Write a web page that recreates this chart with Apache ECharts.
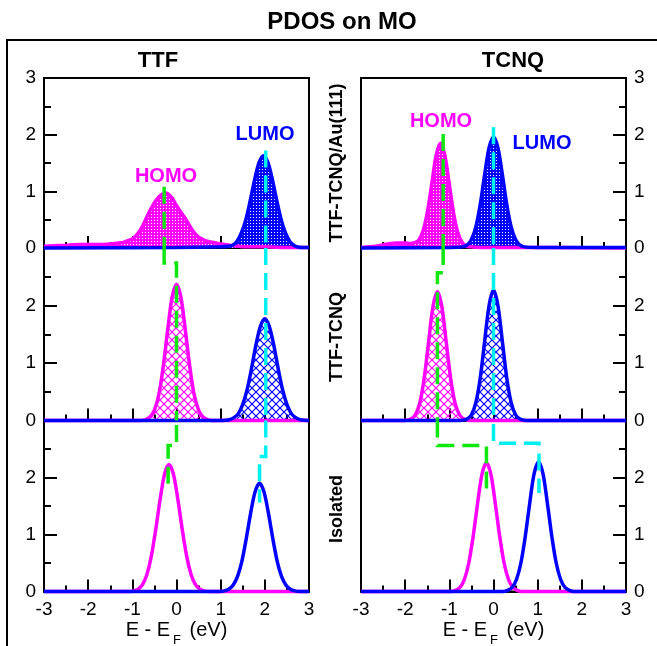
<!DOCTYPE html>
<html><head><meta charset="utf-8">
<script src="https://cdn.jsdelivr.net/npm/echarts@6/dist/echarts.min.js"></script>
<style>html,body{margin:0;padding:0;background:#fff}#c{width:657px;height:646px}</style>
</head><body><div id="c"></div>
<script>
// ---- labels ----
const chartTitle = 'PDOS on MO';
const columnTitles = ['TTF', 'TCNQ'];
const rowLabels = ['TTF-TCNQ/Au(111)', 'TTF-TCNQ', 'Isolated'];
const xRange = [-3, 3];
const yRange = [0, 3];

// ---- PDOS curves [E - EF (eV), PDOS] ----
const ttfAuHomo = [[-3,0.03],[-2.8,0.04],[-2.5,0.05],[-2.2,0.06],[-1.8,0.06],[-1.5,0.07],[-1.3,0.09],[-1.2,0.10],[-1.1,0.13],[-1.0,0.16],[-0.9,0.23],[-0.8,0.34],[-0.7,0.50],[-0.6,0.66],[-0.5,0.80],[-0.4,0.90],[-0.3,0.96],[-0.25,0.97],[-0.2,0.96],[-0.1,0.88],[0.0,0.75],[0.1,0.63],[0.2,0.52],[0.3,0.39],[0.4,0.27],[0.5,0.19],[0.6,0.15],[0.7,0.12],[0.8,0.10],[1.0,0.07],[1.2,0.05],[1.4,0.03],[1.6,0.02],[2.0,0.02],[2.5,0.01],[3,0.01]];
const ttfAuLumo = [[-3,0],[0,0.01],[1.0,0.02],[1.17,0.03],[1.27,0.05],[1.37,0.12],[1.47,0.27],[1.57,0.50],[1.67,0.84],[1.77,1.21],[1.87,1.51],[1.97,1.63],[2.07,1.51],[2.17,1.21],[2.27,0.84],[2.37,0.50],[2.47,0.26],[2.57,0.11],[2.67,0.04],[2.77,0.015],[3,0.01]];
const tcnqAuHomo = [[-3,0.01],[-2.8,0.02],[-2.6,0.04],[-2.4,0.07],[-2.2,0.09],[-2.0,0.09],[-1.9,0.08],[-1.8,0.09],[-1.7,0.13],[-1.6,0.29],[-1.5,0.62],[-1.4,1.12],[-1.3,1.63],[-1.2,1.85],[-1.1,1.63],[-1.0,1.12],[-0.9,0.60],[-0.8,0.25],[-0.7,0.09],[-0.6,0.03],[-0.5,0.02],[-0.3,0.01],[0,0.01],[3,0]];
const tcnqAuLumo = [[-3,0],[-1.0,0.01],[-0.7,0.02],[-0.6,0.05],[-0.5,0.15],[-0.4,0.37],[-0.3,0.77],[-0.2,1.30],[-0.1,1.77],[0,1.96],[0.1,1.77],[0.2,1.30],[0.3,0.77],[0.4,0.37],[0.5,0.15],[0.6,0.05],[0.7,0.02],[1.0,0.01],[3,0.01]];

const ttfMolHomo = [[-3,0],[-0.8,0],[-0.7,0.015],[-0.6,0.06],[-0.5,0.18],[-0.4,0.45],[-0.3,0.94],[-0.2,1.57],[-0.1,2.14],[0,2.37],[0.1,2.14],[0.2,1.57],[0.3,0.94],[0.4,0.45],[0.5,0.18],[0.6,0.06],[0.7,0.015],[0.8,0],[3,0]];
const ttfMolLumo = [[-3,0],[1.0,0],[1.1,0.004],[1.2,0.016],[1.3,0.05],[1.4,0.12],[1.5,0.28],[1.6,0.54],[1.7,0.91],[1.8,1.32],[1.9,1.64],[2.0,1.77],[2.1,1.64],[2.2,1.32],[2.3,0.91],[2.4,0.54],[2.5,0.28],[2.6,0.12],[2.7,0.05],[2.8,0.016],[2.9,0.004],[3,0]];
const tcnqMolHomo = [[-3,0],[-2.07,0],[-1.97,0.005],[-1.87,0.025],[-1.77,0.10],[-1.67,0.30],[-1.57,0.73],[-1.47,1.36],[-1.37,1.98],[-1.27,2.24],[-1.17,1.98],[-1.07,1.36],[-0.97,0.73],[-0.87,0.30],[-0.77,0.10],[-0.67,0.025],[-0.57,0.005],[-0.47,0],[3,0]];
const tcnqMolLumo = [[-3,0],[-0.8,0],[-0.7,0.005],[-0.6,0.025],[-0.5,0.10],[-0.4,0.31],[-0.3,0.74],[-0.2,1.38],[-0.1,2.00],[0,2.27],[0.1,2.00],[0.2,1.38],[0.3,0.74],[0.4,0.31],[0.5,0.10],[0.6,0.025],[0.7,0.005],[0.8,0],[3,0]];

const ttfIsoHomo = [[-3,0],[-1.07,0],[-0.97,0.01],[-0.87,0.04],[-0.77,0.12],[-0.67,0.30],[-0.57,0.62],[-0.47,1.09],[-0.37,1.62],[-0.27,2.06],[-0.17,2.23],[-0.07,2.06],[0.03,1.62],[0.13,1.09],[0.23,0.62],[0.33,0.30],[0.43,0.12],[0.53,0.04],[0.63,0.01],[0.73,0],[3,0]];
const ttfIsoLumo = [[-3,0],[0.98,0],[1.08,0.01],[1.18,0.04],[1.28,0.11],[1.38,0.26],[1.48,0.53],[1.58,0.93],[1.68,1.38],[1.78,1.75],[1.88,1.90],[1.98,1.75],[2.08,1.38],[2.18,0.93],[2.28,0.53],[2.38,0.26],[2.48,0.11],[2.58,0.04],[2.68,0.01],[2.78,0],[3,0]];
const tcnqIsoHomo = [[-3,0],[-0.96,0],[-0.86,0.02],[-0.76,0.07],[-0.66,0.21],[-0.56,0.50],[-0.46,0.97],[-0.36,1.55],[-0.26,2.06],[-0.16,2.26],[-0.06,2.06],[0.04,1.55],[0.14,0.97],[0.24,0.50],[0.34,0.21],[0.44,0.07],[0.54,0.02],[0.64,0],[3,0]];
const tcnqIsoLumo = [[-3,0],[0.22,0],[0.32,0.02],[0.42,0.07],[0.52,0.21],[0.62,0.50],[0.72,0.97],[0.82,1.55],[0.92,2.07],[1.02,2.27],[1.12,2.07],[1.22,1.55],[1.32,0.97],[1.42,0.50],[1.52,0.21],[1.62,0.07],[1.72,0.02],[1.82,0],[3,0]];

// ---- HOMO / LUMO level guides, one path per row (Au, molecular crystal, isolated) ----
const ttfHomoGuide = [
  [[-0.28,1.08],[-0.28,0]],
  [[-0.28,3],[-0.28,2.74],[0,2.74],[0,0]],
  [[0,2.92],[0,2.56],[-0.19,2.56],[-0.19,1.78]]
];
const ttfLumoGuide = [
  [[2.02,1.72],[2.02,0]],
  [[2.02,3],[2.02,0]],
  [[2.02,3],[2.02,2.37],[1.88,2.37],[1.88,1.56]]
];
const tcnqHomoGuide = [
  [[-1.14,2.01],[-1.14,0]],
  [[-1.14,3],[-1.14,2.57],[-1.27,2.57],[-1.27,0]],
  [[-1.27,3],[-1.27,2.56],[-0.16,2.56],[-0.16,1.73]]
];
const tcnqLumoGuide = [
  [[0,2.13],[0,0]],
  [[0,3],[0,0]],
  [[0,2.94],[0,2.6],[1.03,2.6],[1.03,1.73]]
];

// ---- styles ----
const MAG = '#ff00ff', BLU = '#0000ff', GRN = '#11e611', CYN = '#00f0f0';
function dotPattern(color) {
  const c = document.createElement('canvas'); c.width = 3; c.height = 3;
  const g = c.getContext('2d'); g.fillStyle = color; g.fillRect(0,0,3,3);
  g.fillStyle = '#ffffff'; g.fillRect(1,1,1,1);
  return {image: c, repeat: 'repeat'};
}
function hatchPattern(color) {
  const c = document.createElement('canvas'); c.width = 8; c.height = 8;
  const g = c.getContext('2d'); g.strokeStyle = color; g.lineWidth = 1.2;
  g.beginPath();
  g.moveTo(-1,-1); g.lineTo(9,9); g.moveTo(9,-1); g.lineTo(-1,9);
  g.stroke();
  return {image: c, repeat: 'repeat'};
}

const panels = [
  {homo: ttfAuHomo, lumo: ttfAuLumo, fill: 'dot', hg: ttfHomoGuide[0], lg: ttfLumoGuide[0]},
  {homo: tcnqAuHomo, lumo: tcnqAuLumo, fill: 'dot', hg: tcnqHomoGuide[0], lg: tcnqLumoGuide[0]},
  {homo: ttfMolHomo, lumo: ttfMolLumo, fill: 'hatch', hg: ttfHomoGuide[1], lg: ttfLumoGuide[1]},
  {homo: tcnqMolHomo, lumo: tcnqMolLumo, fill: 'hatch', hg: tcnqHomoGuide[1], lg: tcnqLumoGuide[1]},
  {homo: ttfIsoHomo, lumo: ttfIsoLumo, fill: null, hg: ttfHomoGuide[2], lg: ttfLumoGuide[2]},
  {homo: tcnqIsoHomo, lumo: tcnqIsoLumo, fill: null, hg: tcnqHomoGuide[2], lg: tcnqLumoGuide[2]}
];

const colLeft = [44, 361], colWidth = 265;
const rowTop = [78, 248, 420.5], rowHeight = [170, 172.5, 171];
const FONT = 'Liberation Sans, Arial, sans-serif';

const grid = [], xAxis = [], yAxis = [], series = [];
panels.forEach((p, i) => {
  const r = Math.floor(i / 2), c = i % 2;
  grid.push({left: colLeft[c], top: rowTop[r], width: colWidth, height: rowHeight[r],
    show: true, borderColor: '#000', borderWidth: 2, backgroundColor: 'transparent',
    containLabel: false, outerBoundsMode: 'none'});
  xAxis.push({type: 'value', gridIndex: i, min: xRange[0], max: xRange[1], interval: 1,
    axisLine: {show: true, onZero: false, lineStyle: {color: '#000', width: 2}},
    axisTick: {show: true, inside: true, length: 12, lineStyle: {color: '#000', width: 2}},
    minorTick: {show: true, splitNumber: 2, length: 6, lineStyle: {color: '#000', width: 2}},
    splitLine: {show: false},
    axisLabel: {show: r === 2, fontSize: 19, color: '#000', fontFamily: FONT, margin: 9},
    name: r === 2 ? '{a|E - E}{s|F}{a| (eV)}' : '', nameLocation: 'middle', nameGap: 25,
    nameTextStyle: {rich: {
      a: {fontSize: 20, color: '#000', fontFamily: FONT, lineHeight: 24, verticalAlign: 'bottom'},
      s: {fontSize: 13, color: '#000', fontFamily: FONT, lineHeight: 24, verticalAlign: 'bottom', padding: [0, 3, -6, 3]}
    }}
  });
  yAxis.push({type: 'value', gridIndex: i, min: yRange[0], max: yRange[1], interval: 1,
    position: c === 0 ? 'left' : 'right',
    axisLine: {show: true, onZero: false, lineStyle: {color: '#000', width: 2}},
    axisTick: {show: true, inside: true, length: 13, lineStyle: {color: '#000', width: 2}},
    minorTick: {show: true, splitNumber: 2, length: 7, lineStyle: {color: '#000', width: 2}},
    splitLine: {show: false},
    axisLabel: {fontSize: 19, color: '#000', fontFamily: FONT, margin: 8,
      formatter: v => (r > 0 && v === 3) ? '' : String(v)}
  });
  [[p.homo, MAG], [p.lumo, BLU]].forEach(([d, col]) => {
    const s = {type: 'line', xAxisIndex: i, yAxisIndex: i, data: d, showSymbol: false, smooth: 0.3,
      clip: false, z: 3, lineStyle: {color: col, width: 3.5}, itemStyle: {color: col}};
    if (p.fill === 'dot') s.areaStyle = {color: dotPattern(col), opacity: 1};
    if (p.fill === 'hatch') s.areaStyle = {color: hatchPattern(col), opacity: 1};
    series.push(s);
  });
  [[p.hg, GRN], [p.lg, CYN]].forEach(([d, col]) => {
    series.push({type: 'line', xAxisIndex: i, yAxisIndex: i, data: d, showSymbol: false, z: 5,
      clip: false, lineStyle: {color: col, width: 3.5, type: [17, 8], cap: 'butt', join: 'miter'}});
  });
});

const txt = (text, x, y, size, color, extra) => Object.assign({type: 'text', x: x, y: y, z: 20,
  style: {text: text, fill: color || '#000', font: 'bold ' + size + 'px ' + FONT, align: 'center', verticalAlign: 'middle'}}, extra || {});

const graphic = [
  {type: 'rect', shape: {x: 7, y: 40, width: 720, height: 700}, style: {fill: 'none', stroke: '#000', lineWidth: 2}, z: 0},
  txt(chartTitle, 342, 22, 24),
  txt(columnTitles[0], 158, 61, 22),
  txt(columnTitles[1], 513, 61, 22),
  txt(rowLabels[0], 337, 163, 18, '#000', {rotation: Math.PI / 2}),
  txt(rowLabels[1], 337, 337, 18, '#000', {rotation: Math.PI / 2}),
  txt(rowLabels[2], 337, 509, 18, '#000', {rotation: Math.PI / 2}),
  txt('HOMO', 166, 176, 20, MAG),
  txt('LUMO', 265, 134, 20, BLU),
  txt('HOMO', 441, 121, 20, MAG),
  txt('LUMO', 542, 143, 20, BLU)
];

const chart = echarts.init(document.getElementById('c'), null, {renderer: 'canvas'});
chart.setOption({animation: false, backgroundColor: '#fff', grid, xAxis, yAxis, series, graphic});
</script>
</body></html>
